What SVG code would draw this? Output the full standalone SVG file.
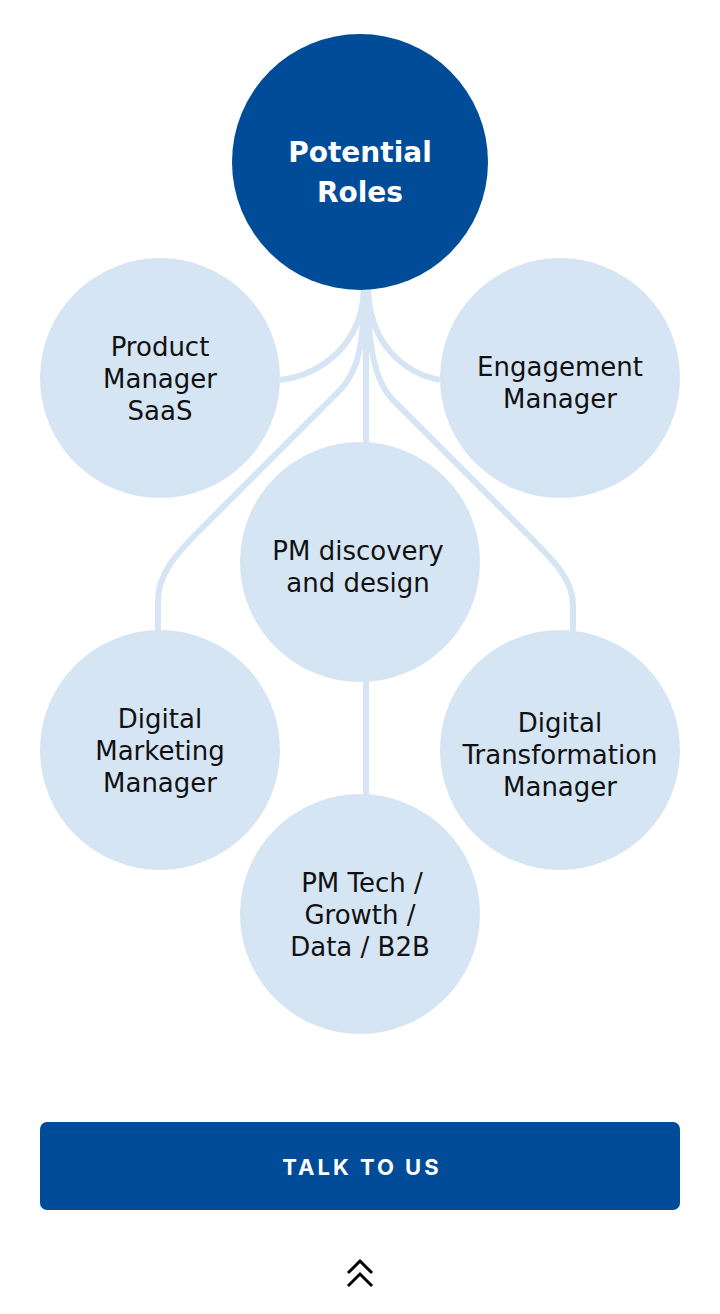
<svg xmlns="http://www.w3.org/2000/svg" width="720" height="1314" viewBox="0 0 720 1314">
  <style>
    .bubble { fill: #d6e5f4; }
    .hub { fill: #004c99; }
    .link { fill: none; stroke: #d6e5f4; stroke-width: 6; stroke-linecap: butt; }
    .label { font-family: "DejaVu Sans", Inter, sans-serif; font-size: 26px; fill: #111; text-anchor: middle; }
    .hub-label { font-family: "DejaVu Sans", Inter, sans-serif; font-size: 28px; font-weight: 700; fill: #fff; text-anchor: middle; }
    .btn-label { font-family: Inter, "Noto Sans", sans-serif; font-size: 22px; font-weight: 700; fill: #fff; text-anchor: middle; letter-spacing: 3px; }
    .chevron { fill: none; stroke: #000; stroke-width: 3; stroke-linecap: square; stroke-linejoin: miter; }
  </style>
  <rect width="720" height="1314" fill="#fff"/>

  <!-- branches from the hub down to each role -->
  <g id="connectors">
    <path class="link" d="M364,285 C364,345 320,375 280,380"/>
    <path class="link" d="M368,285 C368,345 405,373 440,380"/>
    <path class="link" d="M364,285 C364,330 362,368 340,390 L200,530 C175,555 158,575 158,600 L158,634"/>
    <path class="link" d="M368,285 C368,330 370,375 392,399 L530,537 C555,562 573,580 573,605 L573,634"/>
    <path class="link" d="M366,285 L366,446"/>
    <path class="link" d="M366,678 L366,798"/>
  </g>

  <g id="hub">
    <circle class="hub" cx="360" cy="162" r="128"/>
    <text class="hub-label" x="360" y="162">Potential</text>
    <text class="hub-label" x="360" y="202">Roles</text>
  </g>

  <g id="product-manager-saas">
    <circle class="bubble" cx="160" cy="378" r="120"/>
    <text class="label" x="160" y="356">Product</text>
    <text class="label" x="160" y="388">Manager</text>
    <text class="label" x="160" y="420">SaaS</text>
  </g>

  <g id="engagement-manager">
    <circle class="bubble" cx="560" cy="378" r="120"/>
    <text class="label" x="560" y="376">Engagement</text>
    <text class="label" x="560" y="408">Manager</text>
  </g>

  <g id="pm-discovery-design">
    <circle class="bubble" cx="360" cy="562" r="120"/>
    <text class="label" x="358" y="560">PM discovery</text>
    <text class="label" x="358" y="592">and design</text>
  </g>

  <g id="digital-marketing-manager">
    <circle class="bubble" cx="160" cy="750" r="120"/>
    <text class="label" x="160" y="728">Digital</text>
    <text class="label" x="160" y="760">Marketing</text>
    <text class="label" x="160" y="792">Manager</text>
  </g>

  <g id="digital-transformation-manager">
    <circle class="bubble" cx="560" cy="750" r="120"/>
    <text class="label" x="560" y="732">Digital</text>
    <text class="label" x="560" y="764">Transformation</text>
    <text class="label" x="560" y="796">Manager</text>
  </g>

  <g id="pm-tech-growth-data-b2b">
    <circle class="bubble" cx="360" cy="914" r="120"/>
    <text class="label" x="362" y="892">PM Tech /</text>
    <text class="label" x="360" y="924">Growth /</text>
    <text class="label" x="360" y="956">Data / B2B</text>
  </g>

  <g id="talk-to-us">
    <rect class="hub" x="40" y="1122" width="640" height="88" rx="7"/>
    <text class="btn-label" x="362" y="1175">TALK TO US</text>
  </g>

  <g id="back-to-top">
    <path class="chevron" d="M349,1272 L360,1261 L371,1272"/>
    <path class="chevron" d="M349,1285 L360,1274 L371,1285"/>
  </g>
</svg>
